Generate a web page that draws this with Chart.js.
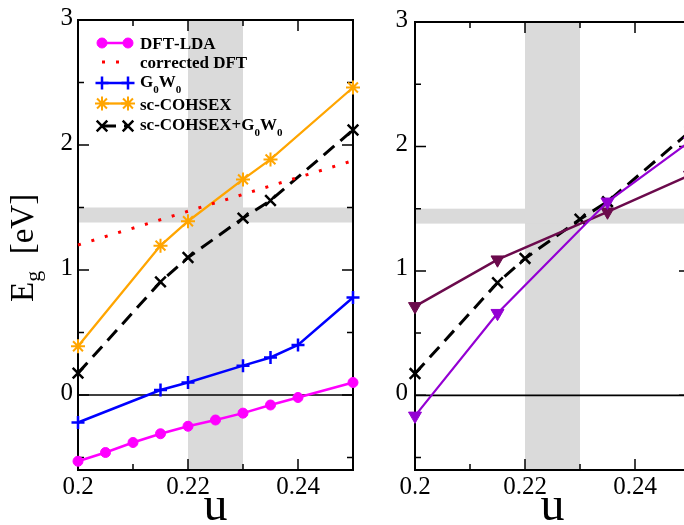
<!DOCTYPE html>
<html>
<head>
<meta charset="utf-8">
<script src="https://cdn.jsdelivr.net/npm/chart.js@4.4.1/dist/chart.umd.min.js"></script>
<style>
  html, body { margin: 0; padding: 0; background: #fff; overflow: hidden; }
  #wrap { position: relative; width: 684px; height: 525px; overflow: hidden; background: #fff; }
  #left  { position: absolute; left: 0;     top: 0; width: 370px; height: 525px; }
  #right { position: absolute; left: 360px; top: 0; width: 345px; height: 525px; }
</style>
</head>
<body>
<div id="wrap">
  <canvas id="left" width="370" height="525"></canvas>
  <canvas id="right" width="345" height="525"></canvas>
</div>
<script>
// ---- band gap E_g [eV] versus u ----
const uLDA   = [0.2, 0.205, 0.21, 0.215, 0.22, 0.225, 0.23, 0.235, 0.24, 0.25];
const egLDA  = [-0.53, -0.46, -0.38, -0.31, -0.25, -0.20, -0.145, -0.08, -0.02, 0.10];

const uCorr  = [0.2, 0.25];
const egCorr = [1.20, 1.875];

const uGW    = [0.2, 0.215, 0.22, 0.23, 0.235, 0.24, 0.25];
const egGW   = [-0.22, 0.04, 0.10, 0.235, 0.30, 0.40, 0.78];

const uCOH   = [0.2, 0.215, 0.22, 0.23, 0.235, 0.25];
const egCOH  = [0.39, 1.195, 1.39, 1.725, 1.885, 2.46];
const egCOHGW = [0.175, 0.905, 1.10, 1.415, 1.556, 2.12];

const uHSE     = [0.2, 0.215, 0.235, 0.25];
const egHSE    = [0.715, 1.09, 1.475, 1.77];
const egHSEeps = [-0.165, 0.66, 1.555, 2.04];

// shaded ranges (u window and experimental gap window)
const bandU  = [0.22, 0.23];
const bandEg = [1.38, 1.50];

// axis ticks
const uTicks      = [0.2, 0.21, 0.22, 0.23, 0.24, 0.25];
const uTickLabels = ['0.2', '', '0.22', '', '0.24', ''];
const egTicks      = [-0.5, 0, 0.5, 1, 1.5, 2, 2.5, 3];
const egTickLabels = ['', '0', '', '1', '', '2', '', '3'];

const pts = (us, ys) => us.map((u, i) => ({ x: u, y: ys[i] }));
const SERIF = "'Liberation Serif', 'Times New Roman', serif";

function dsLDA() {
  return { label: 'DFT-LDA', data: pts(uLDA, egLDA), borderColor: '#ff00ff', borderWidth: 2.5,
    pointStyle: 'circle', pointRadius: 5, pointBackgroundColor: '#ff00ff', pointBorderColor: '#ff00ff', pointBorderWidth: 1 };
}
function dsCorr() {
  return { label: 'corrected DFT', data: pts(uCorr, egCorr), borderColor: '#ff0000', borderWidth: 3,
    borderDash: [3, 11], pointRadius: 0 };
}
function dsGW() {
  return { label: 'G_0W_0', data: pts(uGW, egGW), borderColor: '#0000ff', borderWidth: 2.5,
    pointStyle: 'cross', pointRadius: 6.5, pointBorderColor: '#0000ff', pointBackgroundColor: '#0000ff', pointBorderWidth: 2.5 };
}
function dsCOH() {
  return { label: 'sc-COHSEX', data: pts(uCOH, egCOH), borderColor: '#ffa500', borderWidth: 2.3,
    pointStyle: 'star', pointRadius: 7, pointBorderColor: '#ffa500', pointBackgroundColor: '#ffa500', pointBorderWidth: 2 };
}
function dsCOHGW(order) {
  return { label: 'sc-COHSEX+G_0W_0', data: pts(uCOH, egCOHGW), borderColor: '#000000', borderWidth: 3,
    borderDash: [14, 8], pointStyle: 'crossRot', pointRadius: 7.5, pointBorderColor: '#000000',
    pointBackgroundColor: '#000000', pointBorderWidth: 2.5, order: order };
}
function dsHSE(order) {
  return { label: 'HSE06', data: pts(uHSE, egHSE), borderColor: '#6b0a4c', borderWidth: 2.5,
    pointStyle: 'triangle', pointRotation: 180, pointRadius: 7.5, pointBorderColor: '#6b0a4c',
    pointBackgroundColor: '#6b0a4c', pointBorderWidth: 1, order: order };
}
function dsHSEeps(order) {
  return { label: 'HSE06+\u03b5_0', data: pts(uHSE, egHSEeps), borderColor: '#9400d3', borderWidth: 2.2,
    pointStyle: 'triangle', pointRotation: 180, pointRadius: 7.5, pointBorderColor: '#9400d3',
    pointBackgroundColor: '#9400d3', pointBorderWidth: 1, order: order };
}

// draws text where "_c" renders the following character as a subscript
function drawRich(ctx, text, x, y, size, subSize, subDrop, weight) {
  let cx = x;
  for (let i = 0; i < text.length; i++) {
    const ch = text[i];
    if (ch === '_' && i + 1 < text.length) {
      ctx.font = `${weight} ${subSize}px ${SERIF}`;
      ctx.fillText(text[i + 1], cx, y + subDrop);
      cx += ctx.measureText(text[i + 1]).width;
      i++;
    } else {
      ctx.font = `${weight} ${size}px ${SERIF}`;
      ctx.fillText(ch, cx, y);
      cx += ctx.measureText(ch).width;
    }
  }
}

function marker(ctx, ds, x, y) {
  if (!ds.pointRadius) return;
  ctx.save();
  ctx.setLineDash([]);
  ctx.fillStyle = ds.pointBackgroundColor;
  ctx.strokeStyle = ds.pointBorderColor;
  ctx.lineWidth = ds.pointBorderWidth;
  Chart.helpers.drawPoint(ctx, {
    pointStyle: ds.pointStyle, rotation: ds.pointRotation || 0,
    radius: ds.pointRadius, borderWidth: ds.pointBorderWidth
  }, x, y);
  ctx.restore();
}

const panelPlugin = {
  id: 'panel',
  beforeDatasetsDraw(chart, args, opts) {
    const { ctx, chartArea: a } = chart;
    const xs = chart.scales.x, ys = chart.scales.y;
    ctx.save();
    // shaded windows
    ctx.fillStyle = '#dadada';
    const x0 = xs.getPixelForValue(bandU[0]), x1 = xs.getPixelForValue(bandU[1]);
    ctx.fillRect(x0, a.top, x1 - x0, a.bottom - a.top);
    const y0 = ys.getPixelForValue(bandEg[1]), y1 = ys.getPixelForValue(bandEg[0]);
    ctx.fillRect(a.left, y0, a.right - a.left, y1 - y0);
    // zero line
    ctx.strokeStyle = '#000';
    ctx.lineWidth = 1.6;
    const yz = ys.getPixelForValue(0);
    ctx.beginPath(); ctx.moveTo(a.left, yz); ctx.lineTo(a.right, yz); ctx.stroke();
    // inward tick marks on all four sides
    ctx.lineWidth = 1.5;
    ctx.beginPath();
    uTicks.forEach((v, i) => {
      const px = xs.getPixelForValue(v);
      const len = uTickLabels[i] ? 11 : 6;
      ctx.moveTo(px, a.bottom); ctx.lineTo(px, a.bottom - len);
      ctx.moveTo(px, a.top); ctx.lineTo(px, a.top + len);
    });
    egTicks.forEach((v, i) => {
      const py = ys.getPixelForValue(v);
      const len = egTickLabels[i] ? 11 : 6;
      ctx.moveTo(a.left, py); ctx.lineTo(a.left + len, py);
      ctx.moveTo(a.right, py); ctx.lineTo(a.right - len, py);
    });
    ctx.stroke();
    // frame
    ctx.lineWidth = 2;
    ctx.strokeRect(a.left, a.top, a.right - a.left, a.bottom - a.top);
    ctx.restore();
  },
  afterDatasetsDraw(chart, args, opts) {
    const { ctx, chartArea: a } = chart;
    ctx.save();
    ctx.fillStyle = '#000';
    ctx.textBaseline = 'alphabetic';
    ctx.textAlign = 'left';
    // legend: line with a marker at each end, then the label
    const lg = opts.legend;
    lg.items.forEach((di, k) => {
      const ds = chart.data.datasets[di];
      const y = lg.rows[k];
      ctx.save();
      ctx.strokeStyle = ds.borderColor;
      ctx.lineWidth = ds.borderWidth;
      ctx.setLineDash(ds.borderDash || []);
      ctx.beginPath(); ctx.moveTo(lg.x0, y); ctx.lineTo(lg.x1, y); ctx.stroke();
      ctx.restore();
      marker(ctx, ds, lg.x0, y);
      marker(ctx, ds, lg.x1, y);
      ctx.fillStyle = '#000';
      const hasSub = ds.label.indexOf('_') >= 0;
      drawRich(ctx, ds.label, lg.textX, y + (hasSub ? 3.5 : 6), 17, 11, 6, 'bold');
    });
    // x-axis title
    ctx.font = `48px ${SERIF}`;
    ctx.textAlign = 'center';
    ctx.fillText('u', (a.left + a.right) / 2, 520);
    // y-axis title
    if (opts.yTitle) {
      ctx.save();
      ctx.translate(33, 302);
      ctx.rotate(-Math.PI / 2);
      ctx.textAlign = 'left';
      drawRich(ctx, 'E_g  [eV]', 0, 0, 33, 22, 7, 'normal');
      ctx.restore();
    }
    ctx.restore();
  }
};

function makeOptions(cfg) {
  const tickFont = { family: SERIF, size: 25 };
  return {
    responsive: false,
    animation: false,
    devicePixelRatio: 1,
    events: [],
    layout: { autoPadding: false, padding: { left: 0, right: cfg.padRight, top: 12, bottom: 0 } },
    elements: { line: { tension: 0, borderCapStyle: 'butt', fill: false } },
    datasets: { line: { clip: false } },
    plugins: {
      legend: { display: false },
      tooltip: { enabled: false },
      panel: { legend: cfg.legend, yTitle: cfg.yTitle }
    },
    scales: {
      x: {
        type: 'linear', min: 0.2, max: 0.25,
        afterBuildTicks: s => { s.ticks = uTicks.map(v => ({ value: v })); },
        afterFit: s => { s.height = 55; },
        grid: { display: false, drawTicks: false },
        border: { display: false },
        ticks: { autoSkip: false, maxRotation: 0, minRotation: 0, padding: 2, font: tickFont, color: '#000',
                 callback: (v, i) => uTickLabels[i] }
      },
      y: {
        type: 'linear', min: -0.6, max: 3,
        afterBuildTicks: s => { s.ticks = egTicks.map(v => ({ value: v })); },
        afterFit: s => { s.width = cfg.yWidth; },
        grid: { display: false, drawTicks: false },
        border: { display: false },
        ticks: { autoSkip: false, padding: cfg.yPad, font: tickFont, color: '#000', labelOffset: -2,
                 callback: (v, i) => egTickLabels[i] }
      }
    }
  };
}

new Chart(document.getElementById('left'), {
  type: 'line',
  data: { datasets: [dsLDA(), dsCorr(), dsGW(), dsCOH(), dsCOHGW()] },
  options: makeOptions({
    padRight: 17, yWidth: 78, yPad: 5, yTitle: true,
    legend: { items: [0, 1, 2, 3, 4], rows: [43, 62, 83, 103.5, 126], x0: 102, x1: 128, textX: 140 }
  }),
  plugins: [panelPlugin]
});

new Chart(document.getElementById('right'), {
  type: 'line',
  data: { datasets: [dsCOHGW(2), dsHSE(1), dsHSEeps(0)] },
  options: makeOptions({
    padRight: 15, yWidth: 55, yPad: 7, yTitle: false,
    legend: { items: [0, 1, 2], rows: [45, 69.5, 90], x0: 435, x1: 462, textX: 475 }
  }),
  plugins: [panelPlugin]
});
</script>
</body>
</html>
